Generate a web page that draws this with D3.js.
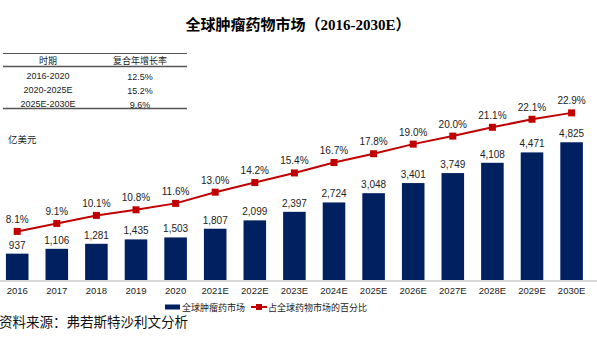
<!DOCTYPE html>
<html>
<head>
<meta charset="utf-8">
<script src="https://cdn.jsdelivr.net/npm/d3@7"></script>
<style>
  body { margin: 0; background: #fff; }
  svg { display: block; }
  text { font-family: Arial, "Liberation Sans", "Noto Sans CJK SC", sans-serif; fill: #222; }
</style>
</head>
<body>
<div class="container"></div>
<script>
const years = ["2016", "2017", "2018", "2019", "2020", "2021E", "2022E", "2023E",
    "2024E", "2025E", "2026E", "2027E", "2028E", "2029E", "2030E"],
    marketSize = [937, 1106, 1281, 1435, 1503, 1807, 2099, 2397, 2724, 3048, 3401, 3749, 4108, 4471, 4825],
    shareOfPharma = [8.1, 9.1, 10.1, 10.8, 11.6, 13.0, 14.2, 15.4, 16.7, 17.8, 19.0, 20.0, 21.1, 22.1, 22.9];

const cagrPeriods = ["2016-2020", "2020-2025E", "2025E-2030E"],
    cagrValues = ["12.5%", "15.2%", "9.6%"];

const width = 597,
    height = 337,
    baseline = 280.5,
    navy = "#002060",
    red = "#c00000";

const svg = d3.select('.container')
    .append('svg')
    .attr('width', width)
    .attr('height', height);

// title
svg.append('text')
    .attr('x', 298)
    .attr('y', 30)
    .attr('text-anchor', 'middle')
    .style('font-family', '"Liberation Serif", "Noto Sans CJK SC", serif')
    .style('font-size', '15px')
    .style('font-weight', 'bold')
    .style('fill', '#000')
    .text('全球肿瘤药物市场（2016-2030E）');

// CAGR table
const table = svg.append('g');
const col1 = 48, col2 = 140;
[[53.5, 1.2], [66.5, 1.5], [108.5, 1.5]].forEach(([y, w]) => {
    table.append('line')
        .attr('x1', 3).attr('x2', 187)
        .attr('y1', y).attr('y2', y)
        .attr('stroke', '#555')
        .attr('stroke-width', w);
});
table.append('text').attr('x', col1).attr('y', 64).attr('text-anchor', 'middle')
    .style('font-size', '9px').text('时期');
table.append('text').attr('x', col2).attr('y', 64).attr('text-anchor', 'middle')
    .style('font-size', '9px').text('复合年增长率');
cagrPeriods.forEach((p, i) => {
    const y = 78.5 + i * 14;
    table.append('text').attr('x', col1).attr('y', y).attr('text-anchor', 'middle')
        .style('font-size', '9px').text(p);
    table.append('text').attr('x', col2).attr('y', y + 1).attr('text-anchor', 'middle')
        .style('font-size', '9px').text(cagrValues[i]);
});

// unit label
svg.append('text')
    .attr('x', 8)
    .attr('y', 143)
    .style('font-size', '9.5px')
    .text('亿美元');

// scales
const xScale = d3.scaleBand()
    .domain(years)
    .range([-2.6, 591.4])
    .paddingInner(0.43)
    .paddingOuter(0.215);

const yScale = d3.scaleLinear()
    .domain([0, 5000])
    .range([baseline, baseline - 5000 * 0.02865]);

const pScale = d3.scaleLinear()
    .domain([0, 25])
    .range([296.3, 296.3 - 25 * 8.01]);

const cx = d => xScale(d) + xScale.bandwidth() / 2;

// bars
svg.append('g')
    .selectAll('rect')
    .data(marketSize)
    .join('rect')
    .attr('x', (d, i) => xScale(years[i]))
    .attr('y', d => yScale(d))
    .attr('width', xScale.bandwidth())
    .attr('height', d => baseline - yScale(d))
    .attr('fill', navy);

svg.append('g')
    .selectAll('text')
    .data(marketSize)
    .join('text')
    .attr('x', (d, i) => cx(years[i]))
    .attr('y', d => yScale(d) - 5)
    .attr('text-anchor', 'middle')
    .style('font-size', '10px')
    .text(d => d3.format(',')(d));

// x axis
const xAxis = d3.axisBottom(xScale).tickSize(0).tickPadding(7);
const axisG = svg.append('g')
    .attr('transform', `translate(0,${baseline})`)
    .call(xAxis);
axisG.select('.domain').remove();
axisG.selectAll('text')
    .style('font-size', '9.5px')
    .style('font-family', 'Arial, "Liberation Sans", sans-serif')
    .attr('fill', '#222');
svg.append('line')
    .attr('x1', 0).attr('x2', width)
    .attr('y1', baseline + 0.5).attr('y2', baseline + 0.5)
    .attr('stroke', '#d9d9d9')
    .attr('stroke-width', 2);

// percentage line
const line = d3.line()
    .x((d, i) => cx(years[i]))
    .y(d => pScale(d));

svg.append('path')
    .datum(shareOfPharma)
    .attr('d', line)
    .attr('fill', 'none')
    .attr('stroke', red)
    .attr('stroke-width', 2);

svg.append('g')
    .selectAll('rect')
    .data(shareOfPharma)
    .join('rect')
    .attr('x', (d, i) => cx(years[i]) - 3.5)
    .attr('y', d => pScale(d) - 3.5)
    .attr('width', 7)
    .attr('height', 7)
    .attr('fill', red);

svg.append('g')
    .selectAll('text')
    .data(shareOfPharma)
    .join('text')
    .attr('x', (d, i) => cx(years[i]))
    .attr('y', d => pScale(d) - 8.5)
    .attr('text-anchor', 'middle')
    .style('font-size', '10px')
    .text(d => d.toFixed(1) + '%');

// legend
const legend = svg.append('g').attr('transform', 'translate(0,307)');
legend.append('rect')
    .attr('x', 165).attr('y', -2.5)
    .attr('width', 15).attr('height', 5)
    .attr('fill', navy);
legend.append('text')
    .attr('x', 182).attr('y', 3.5)
    .style('font-size', '9px')
    .text('全球肿瘤药市场');
legend.append('line')
    .attr('x1', 251).attr('x2', 267)
    .attr('y1', 0).attr('y2', 0)
    .attr('stroke', red).attr('stroke-width', 2);
legend.append('rect')
    .attr('x', 256).attr('y', -3)
    .attr('width', 6).attr('height', 6)
    .attr('fill', red);
legend.append('text')
    .attr('x', 268).attr('y', 3.5)
    .style('font-size', '9px')
    .text('占全球药物市场的百分比');

// source note
svg.append('text')
    .attr('x', -1)
    .attr('y', 327)
    .style('font-family', '"Liberation Serif", "Noto Sans CJK SC", serif')
    .style('font-size', '13.5px')
    .style('fill', '#111')
    .text('资料来源：弗若斯特沙利文分析');
</script>
</body>
</html>
